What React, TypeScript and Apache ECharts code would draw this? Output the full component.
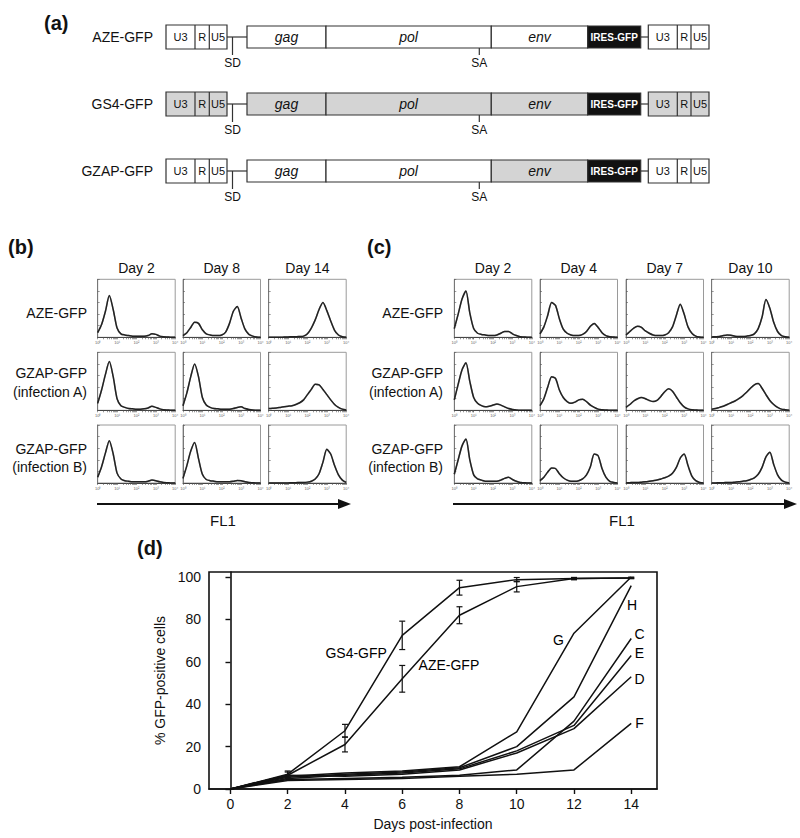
import React, { useEffect, useRef } from 'react';
import * as echarts from 'echarts';

// ---------- Panel (d) data ----------
const DAYS = [0, 2, 4, 6, 8, 10, 12, 14];
const GS4 = [0, 7, 27.5, 72.5, 95, 98.8, 99.3, 99.6];
const GS4_ERR = [0, 1.5, 3, 6.7, 3.5, 1, 0.5, 0.3];
const AZE = [0, 6.5, 21, 52, 82, 95.5, 99.3, 99.6];
const AZE_ERR = [0, 1.5, 3.5, 6.3, 4, 2.5, 0.5, 0.3];
const LINE_G = [0, 6, 7.5, 8.5, 10.5, 27, 73.5, 100];
const LINE_H = [0, 5.5, 7, 8, 10, 20, 43.5, 96];
const LINE_C = [0, 4.5, 5, 5.5, 6.5, 9, 32, 71];
const LINE_E = [0, 5, 6.5, 7.5, 9.5, 18, 30, 63];
const LINE_D = [0, 6.5, 6, 7, 9, 17, 28.5, 53];
const LINE_F = [0, 4, 4.5, 5, 6, 7, 9, 31];
const D_TICKS_X = [0, 2, 4, 6, 8, 10, 12, 14];
const D_TICKS_Y = [0, 20, 40, 60, 80, 100];
const D_LABELS = [
  { name: 'GS4-GFP', x: 4.39, y: 64 },
  { name: 'AZE-GFP', x: 7.63, y: 58.5 },
  { name: 'G', x: 11.46, y: 70.3 },
  { name: 'H', x: 14.03, y: 86.8 },
  { name: 'C', x: 14.29, y: 73 },
  { name: 'E', x: 14.29, y: 64 },
  { name: 'D', x: 14.29, y: 52 },
  { name: 'F', x: 14.29, y: 31 },
];

// ---------- Histogram data (x in decades of FL1, y in % of box height) ----------
const HIST_X = [0, 0.2, 0.4, 0.6, 0.8, 1.0, 1.2, 1.4, 1.6, 1.8, 2.0, 2.2, 2.4, 2.6, 2.8, 3.0, 3.2, 3.4, 3.6, 3.8, 4.0];
const HIST_TICK_LABELS = ['10⁰', '10¹', '10²', '10³', '10⁴'];

const B_AZE_D2 = [8, 22, 45, 72, 48, 16, 6, 4, 3, 2, 2, 2, 2, 3, 6, 5, 2, 1, 0.5, 0, 0];
const B_AZE_D8 = [3, 8, 17, 26, 24, 13, 6, 4, 3, 3, 4, 9, 24, 45, 53, 33, 14, 5, 2, 0.5, 0];
const B_AZE_D14 = [0, 0, 0, 0, 0.5, 0.5, 1, 1, 1.5, 2, 6, 16, 30, 48, 60, 46, 28, 12, 4, 1, 0];
const B_A_D2 = [12, 35, 62, 84, 58, 20, 8, 5, 3, 2.5, 2, 2, 2.5, 4, 7, 5, 2.5, 1, 0.5, 0, 0];
const B_A_D8 = [8, 30, 58, 80, 58, 22, 9, 5, 3, 2.5, 2, 2, 2, 3, 5, 6, 3, 1.5, 0.5, 0, 0];
const B_A_D14 = [3, 3.5, 4, 5, 6, 7, 8, 10, 13, 18, 27, 36, 45, 44, 36, 27, 18, 10, 5, 2, 0.5];
const B_B_D2 = [10, 28, 52, 73, 50, 17, 7, 4, 3, 2, 2, 2, 2, 3, 5, 4, 2, 1, 0.5, 0, 0];
const B_B_D8 = [8, 30, 55, 70, 42, 15, 6, 4, 3, 2, 2, 2, 2, 3, 4.5, 4, 2, 1, 0.5, 0, 0];
const B_B_D14 = [0, 0, 0, 0, 0, 0, 0.5, 0.5, 1, 1, 1.5, 3, 7, 16, 36, 58, 50, 30, 14, 5, 1];

const C_AZE_D2 = [15, 40, 66, 80, 42, 15, 7, 5, 4, 3, 3, 4, 7, 10, 10, 6, 3, 1, 0.5, 0, 0];
const C_AZE_D4 = [6, 18, 38, 60, 55, 32, 14, 7, 4, 3, 3, 5, 10, 19, 24, 17, 8, 3, 1, 0.5, 0];
const C_AZE_D7 = [4, 10, 16, 19, 17, 11, 7, 4, 3, 3, 4, 8, 18, 38, 57, 40, 18, 7, 2, 0.5, 0];
const C_AZE_D10 = [0.5, 1, 1.5, 3, 4, 3.5, 2, 1.5, 1.5, 2, 3, 6, 15, 35, 65, 50, 26, 10, 3, 1, 0];
const C_A_D2 = [18, 45, 70, 82, 50, 22, 12, 8, 6, 7, 9, 11, 9, 6, 3, 1.5, 0.5, 0, 0, 0, 0];
const C_A_D4 = [8, 20, 40, 58, 55, 35, 22, 15, 12, 14, 18, 19, 15, 9, 5, 2, 1, 0.5, 0, 0, 0];
const C_A_D7 = [5, 10, 16, 20, 22, 20, 17, 15, 17, 24, 32, 37, 33, 23, 13, 6, 2.5, 1, 0.5, 0, 0];
const C_A_D10 = [2, 3, 5, 7, 10, 13, 16, 20, 25, 31, 38, 44, 46, 38, 27, 17, 10, 5, 2, 1, 0];
const C_B_D2 = [15, 40, 64, 76, 40, 14, 7, 5, 3, 3, 3, 3, 5, 8, 10, 6, 3, 1, 0.5, 0, 0];
const C_B_D4 = [4, 10, 19, 26, 25, 16, 9, 5, 3, 3, 4, 7, 14, 28, 50, 47, 25, 10, 3, 1, 0];
const C_B_D7 = [0, 0.5, 1, 1, 1.5, 2, 3, 4, 5, 7, 9, 12, 17, 27, 43, 50, 30, 12, 4, 1, 0];
const C_B_D10 = [0, 0, 0.5, 0.5, 1, 1, 1.5, 2, 3, 4, 6, 9, 15, 27, 45, 53, 32, 14, 5, 1.5, 0];

const B_DAYS = ['Day 2', 'Day 8', 'Day 14'];
const C_DAYS = ['Day 2', 'Day 4', 'Day 7', 'Day 10'];
const ROW_LABELS = [['AZE-GFP'], ['GZAP-GFP', '(infection A)'], ['GZAP-GFP', '(infection B)']];
const B_HIST = [
  [B_AZE_D2, B_AZE_D8, B_AZE_D14],
  [B_A_D2, B_A_D8, B_A_D14],
  [B_B_D2, B_B_D8, B_B_D14],
];
const C_HIST = [
  [C_AZE_D2, C_AZE_D4, C_AZE_D7, C_AZE_D10],
  [C_A_D2, C_A_D4, C_A_D7, C_A_D10],
  [C_B_D2, C_B_D4, C_B_D7, C_B_D10],
];

// ---------- Panel (a) constructs ----------
const CONSTRUCTS = [
  { name: 'AZE-GFP', ltr: false, gag: false, pol: false, env: false },
  { name: 'GS4-GFP', ltr: true, gag: true, pol: true, env: true },
  { name: 'GZAP-GFP', ltr: false, gag: false, pol: false, env: true },
];

// ---------- layout ----------
const FONT = 'Liberation Sans, Arial, Helvetica, sans-serif';
const GRAY = '#d4d4d4';
const STROKE = '#333';
const A_ROW_Y = [37, 104, 171];
const B_LEFTS = [97.7, 183, 268.7];
const C_LEFTS = [454.3, 540, 626, 711.7];
const H_TOPS = [279.3, 352.3, 425];
const H_W = 77.5;
const H_H = 58;
const ROW_LABEL_Y = [[313], [373, 392], [449, 467]];

function logTicks(): number[] {
  const t: number[] = [];
  for (let k = 0; k < 4; k++) for (let m = 1; m <= 9; m++) t.push(k + Math.log10(m));
  t.push(4);
  return t;
}

function txt(x: number, y: number, text: string, opts: any = {}) {
  return {
    type: 'text', x, y, silent: true,
    style: {
      text, fill: opts.fill || '#111', font: opts.font || `14px ${FONT}`,
      align: opts.align || 'center', verticalAlign: 'middle',
    },
  };
}
function rect(x: number, y: number, w: number, h: number, fill: string) {
  return { type: 'rect', shape: { x, y, width: w, height: h }, silent: true, style: { fill, stroke: STROKE, lineWidth: 1.2 } };
}
function ln(x1: number, y1: number, x2: number, y2: number, w = 1.2, c = STROKE) {
  return { type: 'line', shape: { x1, y1, x2, y2 }, silent: true, style: { stroke: c, lineWidth: w } };
}

function buildPanelA(): any[] {
  const els: any[] = [];
  CONSTRUCTS.forEach((c, i) => {
    const cy = A_ROW_Y[i];
    els.push(txt(153, cy, c.name, { align: 'right' }));
    const ltrFill = c.ltr ? GRAY : '#fff';
    const drawLTR = (x0: number, d1: number, d2: number, x1: number) => {
      els.push(rect(x0, cy - 12, x1 - x0, 24, ltrFill));
      els.push(ln(d1, cy - 12, d1, cy + 12));
      els.push(ln(d2, cy - 12, d2, cy + 12));
      els.push(txt((x0 + d1) / 2, cy, 'U3', { font: `11px ${FONT}` }));
      els.push(txt((d1 + d2) / 2, cy, 'R', { font: `11px ${FONT}` }));
      els.push(txt((d2 + x1) / 2, cy, 'U5', { font: `11px ${FONT}` }));
    };
    drawLTR(166, 195, 209.3, 227);
    drawLTR(648.3, 677.3, 691, 709);
    els.push(ln(227, cy, 247, cy));
    els.push(ln(640.7, cy, 648.3, cy));
    els.push(ln(232.5, cy, 232.5, cy + 18));
    els.push(txt(232.5, cy + 26, 'SD', { font: `12px ${FONT}` }));
    els.push(rect(247, cy - 11, 79, 22, c.gag ? GRAY : '#fff'));
    els.push(rect(326, cy - 11, 165.3, 22, c.pol ? GRAY : '#fff'));
    els.push(rect(491.3, cy - 11, 96.4, 22, c.env ? GRAY : '#fff'));
    els.push(rect(587.7, cy - 11, 53, 22, '#111'));
    els.push(txt(286.5, cy, 'gag', { font: `italic 14px ${FONT}` }));
    els.push(txt(408.5, cy, 'pol', { font: `italic 14px ${FONT}` }));
    els.push(txt(539.5, cy, 'env', { font: `italic 14px ${FONT}` }));
    els.push(txt(614.2, cy, 'IRES-GFP', { font: `bold 10px ${FONT}`, fill: '#fff' }));
    els.push(ln(479.3, cy + 11, 479.3, cy + 18));
    els.push(txt(479.3, cy + 26, 'SA', { font: `12px ${FONT}` }));
  });
  els.push(txt(44, 23, '(a)', { align: 'left', font: `bold 20px ${FONT}` }));
  return els;
}

function buildPanelsBC(): any[] {
  const els: any[] = [];
  els.push(txt(8, 247, '(b)', { align: 'left', font: `bold 20px ${FONT}` }));
  els.push(txt(367, 247, '(c)', { align: 'left', font: `bold 20px ${FONT}` }));
  B_DAYS.forEach((d, j) => els.push(txt(B_LEFTS[j] + H_W / 2, 268, d)));
  C_DAYS.forEach((d, j) => els.push(txt(C_LEFTS[j] + H_W / 2, 268, d)));
  ROW_LABELS.forEach((lines, r) => {
    lines.forEach((l, k) => {
      els.push(txt(87, ROW_LABEL_Y[r][k], l, { align: 'right' }));
      els.push(txt(443, ROW_LABEL_Y[r][k], l, { align: 'right' }));
    });
  });
  els.push(ln(97, 504, 340, 504, 2, '#111'));
  els.push({ type: 'polygon', silent: true, shape: { points: [[351, 504], [338, 499], [338, 509]] }, style: { fill: '#111' } });
  els.push(txt(223, 520, 'FL1', { font: `15px ${FONT}` }));
  els.push(ln(453, 504, 786, 504, 2, '#111'));
  els.push({ type: 'polygon', silent: true, shape: { points: [[797, 504], [784, 499], [784, 509]] }, style: { fill: '#111' } });
  els.push(txt(622, 520, 'FL1', { font: `15px ${FONT}` }));
  els.push(txt(137, 548, '(d)', { align: 'left', font: `bold 20px ${FONT}` }));
  return els;
}

export default function App() {
  const ref = useRef<HTMLDivElement>(null);
  useEffect(() => {
    if (!ref.current) return;
    const chart = echarts.init(ref.current, undefined, { renderer: 'svg' });
    const grids: any[] = [];
    const xAxes: any[] = [];
    const yAxes: any[] = [];
    const series: any[] = [];
    const LT = logTicks();

    const addHist = (left: number, top: number, data: number[]) => {
      const idx = grids.length;
      grids.push({ left, top, width: H_W, height: H_H, show: true, borderColor: '#9a9a9a', borderWidth: 1, backgroundColor: 'transparent' });
      xAxes.push({
        gridIndex: idx, type: 'value', min: 0, max: 4,
        axisLine: { show: true, lineStyle: { color: '#444', width: 1 } },
        axisTick: { show: true, customValues: LT, length: 2, lineStyle: { color: '#555', width: 0.6 } },
        axisLabel: {
          show: true, customValues: [0, 1, 2, 3, 4], fontSize: 4, color: '#666', margin: 3,
          formatter: (v: number) => HIST_TICK_LABELS[Math.round(v)],
        },
        splitLine: { show: false },
      });
      yAxes.push({
        gridIndex: idx, type: 'value', min: 0, max: 100, interval: 20,
        axisLine: { show: true, lineStyle: { color: '#777', width: 1 } },
        axisTick: { show: true, inside: true, length: 2, lineStyle: { color: '#555', width: 0.6 } },
        axisLabel: { show: false },
        splitLine: { show: false },
      });
      series.push({
        type: 'line', xAxisIndex: idx, yAxisIndex: idx, smooth: 0.25, showSymbol: false, silent: true,
        data: HIST_X.map((x, k) => [x, data[k]]),
        lineStyle: { color: '#222', width: 1.5, shadowColor: 'rgba(0,0,0,0.35)', shadowBlur: 1.5 },
      });
    };
    B_HIST.forEach((row, r) => row.forEach((d, j) => addHist(B_LEFTS[j], H_TOPS[r], d)));
    C_HIST.forEach((row, r) => row.forEach((d, j) => addHist(C_LEFTS[j], H_TOPS[r], d)));

    const m = grids.length;
    grids.push({ left: 209, top: 572, width: 448, height: 217, show: true, borderColor: '#111', borderWidth: 1.6, backgroundColor: 'transparent' });
    xAxes.push({
      gridIndex: m, type: 'value', min: -0.75, max: 14.9,
      axisLine: { show: true, lineStyle: { color: '#111', width: 1.6 } },
      axisTick: { show: true, customValues: D_TICKS_X, length: 5, lineStyle: { color: '#111', width: 1.4 } },
      axisLabel: { show: true, customValues: D_TICKS_X, fontSize: 14, color: '#111', margin: 8, fontFamily: FONT },
      splitLine: { show: false },
      name: 'Days post-infection', nameLocation: 'middle', nameGap: 28,
      nameTextStyle: { fontSize: 14, color: '#111', fontFamily: FONT },
    });
    yAxes.push({
      gridIndex: m, type: 'value', min: 0, max: 102.4,
      axisLine: { show: true, lineStyle: { color: '#111', width: 1.6 } },
      axisTick: { show: true, customValues: D_TICKS_Y, length: 5, lineStyle: { color: '#111', width: 1.4 } },
      axisLabel: { show: true, customValues: D_TICKS_Y, fontSize: 14, color: '#111', margin: 8, fontFamily: FONT },
      splitLine: { show: false },
      name: '% GFP-positive cells', nameLocation: 'middle', nameGap: 36,
      nameTextStyle: { fontSize: 14, color: '#111', fontFamily: FONT },
    });
    const lines: [string, number[]][] = [
      ['GS4-GFP', GS4], ['AZE-GFP', AZE], ['G', LINE_G], ['H', LINE_H],
      ['C', LINE_C], ['E', LINE_E], ['D', LINE_D], ['F', LINE_F],
    ];
    lines.forEach(([name, vals]) => {
      series.push({
        name, type: 'line', xAxisIndex: m, yAxisIndex: m, showSymbol: false, silent: true,
        data: DAYS.map((d, k) => [d, vals[k]]),
        lineStyle: { color: '#111', width: 1.5 },
      });
    });
    const errSeries = (vals: number[], errs: number[]) => ({
      type: 'custom', xAxisIndex: m, yAxisIndex: m, silent: true,
      data: DAYS.map((d, k) => [d, vals[k], errs[k]]).filter((p) => p[2] > 0),
      renderItem: (params: any, api: any) => {
        const x = api.value(0), y = api.value(1), e = api.value(2);
        const t = api.coord([x, y + e]);
        const b = api.coord([x, y - e]);
        const w = 3;
        const st = { stroke: '#111', lineWidth: 1.2 };
        return {
          type: 'group',
          children: [
            { type: 'line', shape: { x1: t[0], y1: t[1], x2: b[0], y2: b[1] }, style: st },
            { type: 'line', shape: { x1: t[0] - w, y1: t[1], x2: t[0] + w, y2: t[1] }, style: st },
            { type: 'line', shape: { x1: b[0] - w, y1: b[1], x2: b[0] + w, y2: b[1] }, style: st },
          ],
        };
      },
    });
    series.push(errSeries(GS4, GS4_ERR));
    series.push(errSeries(AZE, AZE_ERR));
    series.push({
      type: 'scatter', xAxisIndex: m, yAxisIndex: m, symbolSize: 1, silent: true,
      itemStyle: { color: 'rgba(255,255,255,0)' },
      data: D_LABELS.map((l) => ({ name: l.name, value: [l.x, l.y] })),
      label: {
        show: true, position: 'inside', formatter: '{b}', fontSize: 14, color: '#000',
        fontFamily: FONT, textBorderWidth: 0, opacity: 1,
      },
    });

    chart.setOption({
      animation: false,
      backgroundColor: '#fff',
      textStyle: { fontFamily: FONT },
      grid: grids,
      xAxis: xAxes,
      yAxis: yAxes,
      series,
      graphic: [...buildPanelA(), ...buildPanelsBC()],
    });
    return () => chart.dispose();
  }, []);
  return <div ref={ref} style={{ position: 'fixed', left: 0, top: 0, width: 800, height: 838, background: '#fff' }} />;
}
